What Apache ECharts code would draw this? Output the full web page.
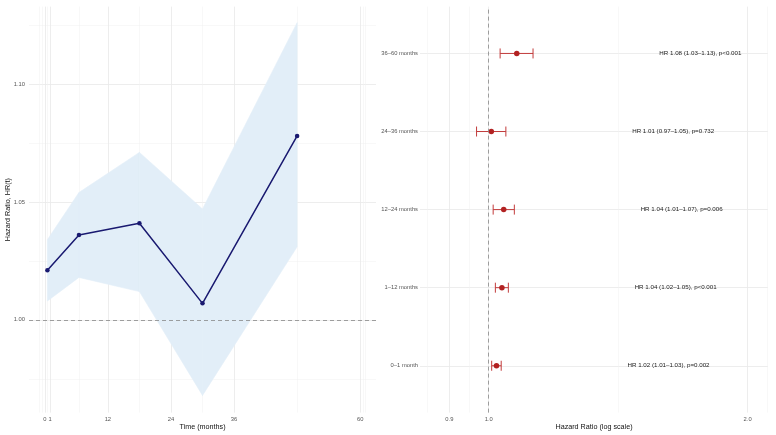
<!DOCTYPE html>
<html>
<head>
<meta charset="utf-8">
<script src="https://cdn.jsdelivr.net/npm/echarts@6/dist/echarts.min.js"></script>
<style>
html,body{margin:0;padding:0;background:#fff;}
#chart{width:776px;height:435px;}
</style>
</head>
<body>
<div id="chart"></div>
<script>
// ---- data ----
const timeMid = [0.5, 6.5, 18, 30, 48];
const hrEst = [1.021, 1.036, 1.041, 1.007, 1.078];
const hrLower = [1.008, 1.018, 1.012, 0.968, 1.031];
const hrUpper = [1.034, 1.054, 1.071, 1.047, 1.126];
const periods = ['0–1 month', '1–12 months', '12–24 months', '24–36 months', '36–60 months'];
const pLabels = ['p=0.002', 'p<0.001', 'p=0.006', 'p=0.732', 'p<0.001'];
const timeTicks = [0, 1, 12, 24, 36, 60];
const timeMinor = [-1, -0.5, 0.5, 6.5, 18, 30, 48, 60.5, 61];
const hrTicks = [1.00, 1.05, 1.10];
const hrMinor = [0.975, 1.025, 1.075, 1.125];
const logTicks = [0.9, 1.0, 2.0];
const logMinor = [0.8485, 0.9487, 1.4142, 2.108];

const FONT = 'Liberation Sans, Arial, sans-serif';
const L10 = v => Math.log10(v);
const rows = periods.map((_, i) => i + 1);

const chart = echarts.init(document.getElementById('chart'), null, {renderer: 'canvas'});

const gridLine = {show: true, lineStyle: {color: '#e9e9e9', width: 0.8}};
const minorLine = {show: true, lineStyle: {color: '#f0f0f0', width: 0.5}};
const tickLabel = {color: '#555', fontSize: 5.8, fontFamily: FONT};
const nameStyle = {color: '#111', fontSize: 7.2, fontFamily: FONT};

// band segments between consecutive time points
const bandSegs = timeMid.slice(0, -1).map((t, i) =>
  [t, hrLower[i], hrUpper[i], timeMid[i + 1], hrLower[i + 1], hrUpper[i + 1]]);

const option = {
  animation: false,
  backgroundColor: '#fff',
  grid: [
    {left: 29, top: 6.6, width: 347, height: 406, containLabel: false, outerBoundsMode: 'none'},
    {left: 420, top: 6.6, width: 348, height: 406, containLabel: false, outerBoundsMode: 'none'}
  ],
  xAxis: [
    {
      type: 'value', gridIndex: 0, min: -3, max: 63,
      axisLine: {show: false}, axisTick: {show: false, customValues: timeTicks},
      axisLabel: Object.assign({customValues: timeTicks, margin: 3.5}, tickLabel),
      splitLine: gridLine,
      name: 'Time (months)', nameLocation: 'middle', nameGap: 10.5, nameMoveOverlap: false,
      nameTextStyle: nameStyle
    },
    {
      type: 'value', gridIndex: 0, min: -3, max: 63,
      axisLine: {show: false}, axisTick: {show: false, customValues: timeMinor},
      axisLabel: {show: false, customValues: timeMinor},
      splitLine: minorLine
    },
    {
      type: 'value', gridIndex: 1, min: L10(0.832), max: L10(2.112),
      axisLine: {show: false}, axisTick: {show: false, customValues: logTicks.map(L10)},
      axisLabel: Object.assign({customValues: logTicks.map(L10), margin: 3.5,
        formatter: v => Math.pow(10, v).toFixed(1)}, tickLabel),
      splitLine: gridLine,
      name: 'Hazard Ratio (log scale)', nameLocation: 'middle', nameGap: 10.5, nameMoveOverlap: false,
      nameTextStyle: nameStyle
    },
    {
      type: 'value', gridIndex: 1, min: L10(0.832), max: L10(2.112),
      axisLine: {show: false}, axisTick: {show: false, customValues: logMinor.map(L10)},
      axisLabel: {show: false, customValues: logMinor.map(L10)},
      splitLine: minorLine
    }
  ],
  yAxis: [
    {
      type: 'value', gridIndex: 0, min: 0.9607, max: 1.1328,
      axisLine: {show: false}, axisTick: {show: false, customValues: hrTicks},
      axisLabel: Object.assign({customValues: hrTicks, margin: 4, formatter: v => v.toFixed(2)}, tickLabel),
      splitLine: gridLine,
      name: 'Hazard Ratio, HR(t)', nameLocation: 'middle', nameGap: 17, nameMoveOverlap: false,
      nameTextStyle: nameStyle
    },
    {
      type: 'value', gridIndex: 0, min: 0.9607, max: 1.1328,
      axisLine: {show: false}, axisTick: {show: false, customValues: hrMinor},
      axisLabel: {show: false, customValues: hrMinor},
      splitLine: minorLine
    },
    {
      type: 'value', gridIndex: 1, min: 0.4, max: 5.6,
      axisLine: {show: false}, axisTick: {show: false, customValues: rows},
      axisLabel: Object.assign({customValues: rows, margin: 2,
        formatter: v => periods[Math.round(v) - 1]}, tickLabel),
      splitLine: gridLine
    }
  ],
  series: [
    {
      type: 'custom', xAxisIndex: 0, yAxisIndex: 0, silent: true,
      data: bandSegs,
      encode: {x: [0, 3], y: [1, 2, 4, 5]},
      renderItem: (params, api) => {
        const a1 = api.coord([api.value(0), api.value(2)]);
        const b1 = api.coord([api.value(3), api.value(5)]);
        const b0 = api.coord([api.value(3), api.value(4)]);
        const a0 = api.coord([api.value(0), api.value(1)]);
        return {type: 'polygon', shape: {points: [a1, b1, b0, a0]},
          style: {fill: '#e2eef8', stroke: '#e2eef8', lineWidth: 0.6}};
      },
      z: 1
    },
    {
      type: 'line', xAxisIndex: 0, yAxisIndex: 0, silent: true,
      symbol: 'circle', symbolSize: 4.5,
      lineStyle: {color: '#191970', width: 1.5},
      itemStyle: {color: '#191970'},
      data: timeMid.map((t, i) => [t, hrEst[i]]),
      markLine: {
        silent: true, symbol: 'none', label: {show: false},
        lineStyle: {color: '#888', type: [4, 3], width: 0.8},
        data: [{yAxis: 1.0}]
      },
      z: 3
    },
    {
      type: 'custom', xAxisIndex: 2, yAxisIndex: 2, silent: true,
      data: rows.map((r, i) => [L10(hrLower[i]), L10(hrUpper[i]), r]),
      encode: {x: [0, 1], y: 2},
      renderItem: (params, api) => {
        const y = api.value(2);
        const p1 = api.coord([api.value(0), y]);
        const p2 = api.coord([api.value(1), y]);
        const h = 5;
        const st = {stroke: '#c23b3b', lineWidth: 1};
        return {type: 'group', children: [
          {type: 'line', shape: {x1: p1[0], y1: p1[1], x2: p2[0], y2: p2[1]}, style: st},
          {type: 'line', shape: {x1: p1[0], y1: p1[1] - h, x2: p1[0], y2: p1[1] + h}, style: st},
          {type: 'line', shape: {x1: p2[0], y1: p2[1] - h, x2: p2[0], y2: p2[1] + h}, style: st}
        ]};
      },
      markLine: {
        silent: true, symbol: 'none', label: {show: false},
        lineStyle: {color: '#888', type: [4, 3], width: 0.8},
        data: [{xAxis: 0}]
      },
      z: 3
    },
    {
      type: 'scatter', xAxisIndex: 2, yAxisIndex: 2, silent: true,
      symbol: 'circle', symbolSize: 5.5,
      itemStyle: {color: '#b22222', opacity: 1},
      data: rows.map((r, i) => [L10(hrEst[i]), r]),
      z: 4
    },
    {
      type: 'custom', xAxisIndex: 2, yAxisIndex: 2, silent: true,
      data: rows.map((r, i) => [L10(hrUpper[i] * 1.565), r, i]),
      encode: {x: 0, y: 1},
      renderItem: (params, api) => {
        const i = api.value(2);
        const p = api.coord([api.value(0), api.value(1)]);
        const txt = 'HR ' + hrEst[i].toFixed(2) + ' (' + hrLower[i].toFixed(2) + '–' +
          hrUpper[i].toFixed(2) + '), ' + pLabels[i];
        return {type: 'text', x: p[0], y: p[1], style: {
          text: txt, align: 'center', verticalAlign: 'middle',
          fontSize: 6.2, fontFamily: FONT, fill: '#222'
        }};
      },
      z: 5
    }
  ]
};
chart.setOption(option);
</script>
</body>
</html>
